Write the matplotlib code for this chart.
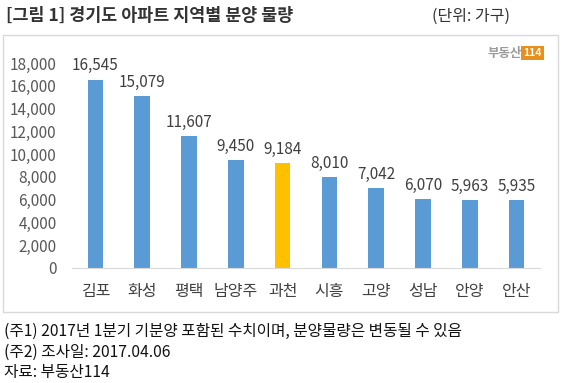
import matplotlib.pyplot as plt
from matplotlib.patches import Rectangle

plt.rcParams['font.family'] = ['Noto Sans CJK KR', 'DejaVu Sans']

regions = ['김포', '화성', '평택', '남양주', '과천', '시흥', '고양', '성남', '안양', '안산']
supply = [16545, 15079, 11607, 9450, 9184, 8010, 7042, 6070, 5963, 5935]
highlight = '과천'
y_ticks = [0, 2000, 4000, 6000, 8000, 10000, 12000, 14000, 16000, 18000]

title = '[그림 1] 경기도 아파트 지역별 분양 물량'
unit = '(단위: 가구)'
notes = ['(주1) 2017년 1분기 기분양 포함된 수치이며, 분양물량은 변동될 수 있음',
         '(주2) 조사일: 2017.04.06',
         '자료: 부동산114']

W, H = 567, 383
fig = plt.figure(figsize=(W / 100, H / 100), dpi=100)

# chart frame
fig.patches.append(Rectangle((3 / W, 1 - 312 / H), 555 / W, 277 / H,
                             transform=fig.transFigure, fill=False,
                             edgecolor='#d9d9d9', linewidth=1))

ax = fig.add_axes([72 / W, 1 - 268 / H, (540 - 72) / W, (268 - 63) / H])
colors = ['#FFC000' if r == highlight else '#5B9BD5' for r in regions]
x = range(len(regions))
ax.bar(x, supply, width=0.33, color=colors)
for i, v in enumerate(supply):
    ax.text(i, v + 450, f'{v:,}', ha='center', va='bottom', fontsize=11, color='#404040')

ax.set_ylim(0, 18000)
ax.set_xlim(-0.5, len(regions) - 0.5)
ax.set_yticks(y_ticks)
ax.set_yticklabels([f'{t:,}' for t in y_ticks], fontsize=11, color='#595959')
ax.set_xticks(list(x))
ax.set_xticklabels(regions, fontsize=11.5, color='#404040')
ax.tick_params(length=0)
ax.tick_params(axis='x', pad=11)
ax.tick_params(axis='y', pad=11)
for s in ['top', 'right', 'left']:
    ax.spines[s].set_visible(False)
ax.spines['bottom'].set_color('#d9d9d9')

fig.text(6 / W, 1 - 16 / H, title, fontsize=12.5, fontweight='bold', color='#333333', va='center')
fig.text(510 / W, 1 - 16 / H, unit, fontsize=11.5, color='#333333', va='center', ha='right')

# logo
fig.text(522 / W, 1 - 53 / H, '부동산', fontsize=9, fontweight='bold', color='#9a9a9a',
         va='center', ha='right')
fig.text(532.5 / W, 1 - 53 / H, '114', fontsize=7.5, fontweight='bold', color='white',
         va='center', ha='center',
         bbox=dict(boxstyle='square,pad=0.2', facecolor='#E8901E', edgecolor='none'))

for k, n in enumerate(notes):
    fig.text(4 / W, 1 - (331 + 21 * k) / H, n, fontsize=11.3, color='#111111', va='center')

fig.savefig('out.png', dpi=100)
